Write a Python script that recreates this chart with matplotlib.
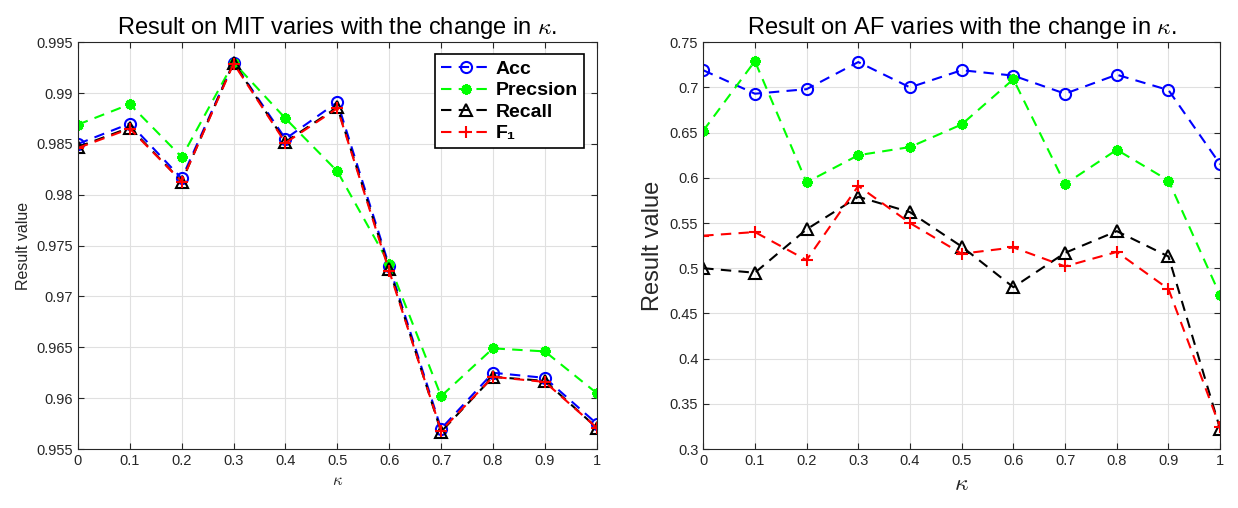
import numpy as np
import matplotlib
matplotlib.use("Agg")
import matplotlib.pyplot as plt
from matplotlib.ticker import FuncFormatter

plt.rcParams['font.family'] = ['Liberation Sans', 'DejaVu Sans']
plt.rcParams['mathtext.fontset'] = 'cm'

kappa = [0, 0.1, 0.2, 0.3, 0.4, 0.5, 0.6, 0.7, 0.8, 0.9, 1.0]

# MIT results
mit_acc = [0.9850, 0.9870, 0.9816, 0.9930, 0.9855, 0.9891, 0.9730, 0.9570, 0.9625, 0.9620, 0.9575]
mit_prec = [0.9869, 0.9889, 0.9837, 0.9930, 0.9875, 0.9823, 0.9732, 0.9602, 0.9649, 0.9646, 0.9605]
mit_rec = [0.9847, 0.9866, 0.9813, 0.9930, 0.9852, 0.9886, 0.9727, 0.9567, 0.9621, 0.9617, 0.9571]
mit_f1 = [0.9846, 0.9865, 0.9813, 0.9929, 0.9851, 0.9885, 0.9725, 0.9568, 0.9621, 0.9616, 0.9571]

# AF results
af_acc = [0.719, 0.693, 0.698, 0.728, 0.700, 0.719, 0.713, 0.693, 0.714, 0.697, 0.615]
af_prec = [0.652, 0.729, 0.595, 0.625, 0.634, 0.659, 0.709, 0.593, 0.631, 0.597, 0.470]
af_rec = [0.500, 0.495, 0.543, 0.579, 0.562, 0.524, 0.479, 0.517, 0.541, 0.513, 0.322]
af_f1 = [0.536, 0.540, 0.509, 0.591, 0.550, 0.516, 0.523, 0.502, 0.518, 0.477, 0.324]

labels = ['Acc', 'Precsion', 'Recall', 'F\u2081']
colors = ['#0000ff', '#00ff00', '#000000', '#ff0000']
markers = ['o', (8, 2, 0), '^', '+']

ax_col = '#262626'


def style_axes(ax, ylim, yticks, ndig):
    ax.set_xlim(0, 1)
    ax.set_ylim(*ylim)
    ax.set_xticks(kappa)
    ax.xaxis.set_major_formatter(FuncFormatter(lambda v, p: '%g' % round(v, 2)))
    ax.set_yticks(yticks)
    ax.yaxis.set_major_formatter(FuncFormatter(lambda v, p: '%g' % round(v, ndig)))
    ax.grid(True, color='#e0e0e0', linewidth=0.8)
    ax.set_axisbelow(True)
    ax.tick_params(direction='in', top=True, right=True, labelsize=10.5,
                   colors=ax_col, length=4, width=0.8)
    for s in ax.spines.values():
        s.set_color(ax_col)
        s.set_linewidth(0.8)


def draw(ax, series):
    for vals, lab, c, m in zip(series, labels, colors, markers):
        hollow = m in ('o', '^')
        ax.plot(kappa, vals, linestyle=(0, (5, 3.5)), color=c, linewidth=1.5,
                marker=m, markersize=8 if hollow or m == '+' else 7.5,
                markerfacecolor='none' if hollow else c,
                markeredgecolor=c, markeredgewidth=1.5 if m != (8, 2, 0) else 2.2,
                label=lab)


fig = plt.figure(figsize=(12.38, 5.08), dpi=100)
ax1 = fig.add_axes([0.063, 0.116, 0.419, 0.801])
ax2 = fig.add_axes([0.568, 0.116, 0.4176, 0.801])

draw(ax1, [mit_acc, mit_prec, mit_rec, mit_f1])
style_axes(ax1, (0.955, 0.995), np.arange(0.955, 0.9951, 0.005), 3)
ax1.set_title(r'Result on MIT varies with the change in $\kappa$.', fontsize=17, pad=6)
ax1.set_ylabel('Result value', fontsize=11.5, color=ax_col)
ax1.set_xlabel(r'$\kappa$', fontsize=12, color=ax_col)
leg = ax1.legend(loc='upper right', bbox_to_anchor=(0.975, 0.97), borderaxespad=0,
                 prop={'weight': 'bold', 'size': 14}, fancybox=False, framealpha=1,
                 edgecolor='black', handlelength=2.6, handletextpad=0.2,
                 labelspacing=0.2, borderpad=0.3)
leg.get_frame().set_linewidth(1.2)

draw(ax2, [af_acc, af_prec, af_rec, af_f1])
style_axes(ax2, (0.3, 0.75), np.arange(0.3, 0.7501, 0.05), 2)
ax2.set_title(r'Result on AF varies with the change in $\kappa$.', fontsize=17, pad=6)
ax2.set_ylabel('Result value', fontsize=17, color=ax_col)
ax2.set_xlabel(r'$\kappa$', fontsize=17, color=ax_col)

fig.savefig('out.png', dpi=100)
